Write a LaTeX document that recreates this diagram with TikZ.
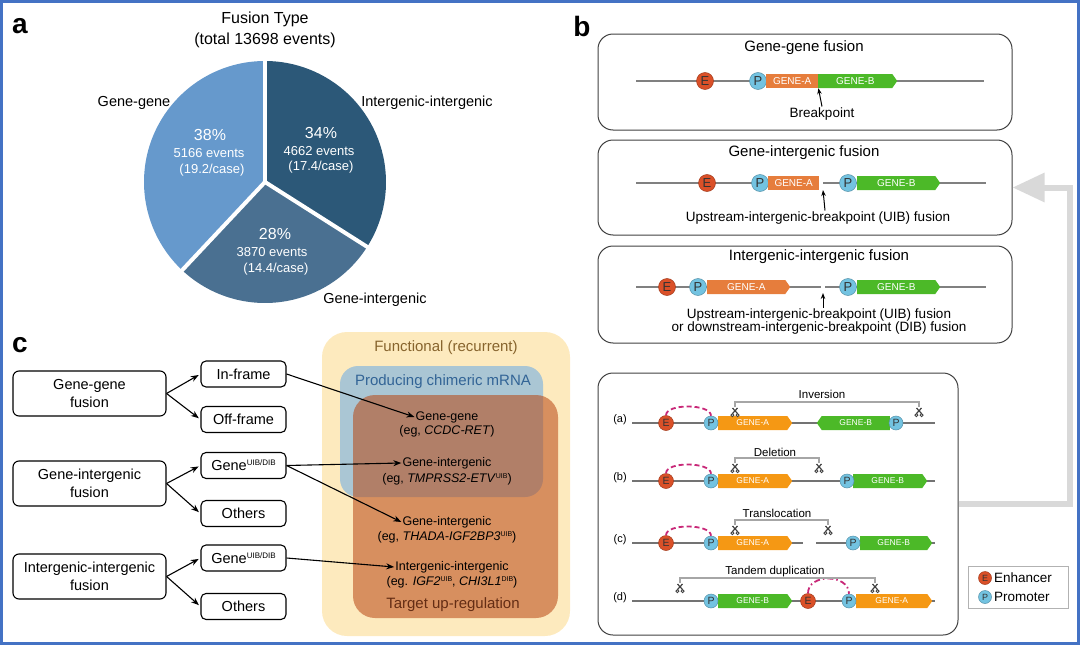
\documentclass[tikz,border=0pt]{standalone}
\usepackage{fontspec}
\setmainfont{Liberation Sans}
\usetikzlibrary{positioning,shapes,arrows.meta}
\definecolor{frameblue}{RGB}{68,114,196}
\definecolor{pieA}{RGB}{102,153,204}
\definecolor{pieB}{RGB}{74,112,145}
\definecolor{pieC}{RGB}{44,88,120}
\definecolor{enhc}{RGB}{218,80,40}
\definecolor{promc}{RGB}{115,195,225}
\definecolor{geneAc}{RGB}{230,125,60}
\definecolor{geneAb}{RGB}{245,152,20}
\definecolor{geneBc}{RGB}{76,185,40}
\definecolor{loopc}{RGB}{200,40,120}
\definecolor{funcy}{RGB}{253,234,190}
\definecolor{chimb}{RGB}{170,198,212}
\definecolor{upreg}{RGB}{184,69,17}
\definecolor{functxt}{RGB}{135,100,45}
\definecolor{chimtxt}{RGB}{50,100,150}
\definecolor{uptxt}{RGB}{100,45,20}

\begin{document}
\begin{tikzpicture}
    [x=1pt, y=-1pt, every node/.style={inner sep=1pt},
     fs/.style={font=\fontsize{#1}{#1}\selectfont},
     panel/.style={font=\fontsize{28}{28}\selectfont\bfseries},
     wtxt/.style={text=white},
     bbox/.style={draw=black!75, line width=1pt, rounded corners=15pt, minimum width=414pt},
     thinline/.style={draw=black!50, line width=1.3pt},
     baseline/.style={draw=black!55, line width=2pt},
     enh/.style={circle, draw=enhc!75!black, line width=0.5pt, fill=enhc, inner sep=0pt, minimum size=17pt, fs=13, text=black!80},
     prom/.style={enh, draw=promc!75!black, fill=promc},
     smallc/.style={minimum size=14pt, fs=10.5},
     gene/.style={rectangle, inner sep=0pt, minimum height=14pt, text=white, fs=10},
     gsig/.style={gene, signal, signal to=east, signal pointer angle=110},
     gsigw/.style={gene, signal, signal to=west, signal pointer angle=110},
     bparr/.style={-{Stealth[length=6pt,width=4.5pt]}, line width=1pt},
     brk/.style={draw=black!35, line width=1.8pt},
     loopd/.style={draw=loopc, line width=1.8pt, dash pattern=on 5pt off 3pt},
     scis/.pic={
       \draw[black!75, line width=1.2pt] (-2.5,-4) -- (2.5,1.5) (2.5,-4) -- (-2.5,1.5);
       \draw[black!75, line width=0.9pt] (-2.6,3.2) circle (1.5) (2.6,3.2) circle (1.5);},
     fb/.style={draw=black!15, line width=6pt, -{Triangle[length=32pt,width=28pt]}},
     bigbox/.style={draw, line width=1.1pt, rounded corners=6pt, minimum width=153pt, minimum height=45pt, align=center, font=\fontsize{14.5}{18}\selectfont},
     smallbox/.style={draw, line width=1.1pt, rounded corners=5pt, minimum width=85pt, minimum height=26pt, fs=14.5},
     arr/.style={-{Stealth[length=8pt,width=6pt]}, line width=1.1pt}]
  \useasboundingbox (0,0) rectangle (1080,645);
  \draw[frameblue, line width=3pt] (1.5,1.5) rectangle (1078.5,643.5);

  % panel a
  \node[panel] (la) at (20,26) {a};
  \node[fs=16] (ttl1) at (265,19) {Fusion Type};
  \node[fs=16] (ttl2) at (265,40) {(total 13698 events)};
  \begin{scope}[shift={(265,182)}, y=1pt]
    \fill[pieA] (0,0) -- (90:121) arc[start angle=90, end angle=226.8, radius=121] -- cycle;
    \fill[pieB] (0,0) -- (226.8:121) arc[start angle=226.8, end angle=327.6, radius=121] -- cycle;
    \fill[pieC] (0,0) -- (327.6:121) arc[start angle=327.6, end angle=450, radius=121] -- cycle;
    \foreach \a in {90, 226.8, 327.6}
      \draw[white, line width=4pt] (0,0) -- (\a:124);
  \end{scope}
  \node[fs=14.5] (pgg) at (134,103) {Gene-gene};
  \node[fs=14.5] (pii) at (427,103) {Intergenic-intergenic};
  \node[fs=14.5] (pgi) at (375,300) {Gene-intergenic};
  \node[fs=16, wtxt] (s1a) at (210,135) {38\%};
  \node[fs=13, wtxt] (s1b) at (209,153) {5166 events};
  \node[fs=13, wtxt] (s1c) at (212,170) {(19.2/case)};
  \node[fs=16, wtxt] (s2a) at (321,133) {34\%};
  \node[fs=13, wtxt] (s2b) at (319,151) {4662 events};
  \node[fs=13, wtxt] (s2c) at (321,167) {(17.4/case)};
  \node[fs=16, wtxt] (s3a) at (275,234) {28\%};
  \node[fs=13, wtxt] (s3b) at (272,252) {3870 events};
  \node[fs=13, wtxt] (s3c) at (276,269) {(14.4/case)};

  % panel b
  \node[panel] (lb) at (582,26) {b};
  \node[bbox, minimum height=96pt] (bx1) at (805,82) {};
  \node[bbox, minimum height=95pt] (bx2) at (805,187.5) {};
  \node[bbox, minimum height=97pt] (bx3) at (805,294.5) {};
  \node[bbox, minimum width=360pt, minimum height=262pt] (bx4) at (778,504) {};
  \node[fs=15] (h1) at (804,48) {Gene-gene fusion};
  \node[fs=15] (h2) at (804,153) {Gene-intergenic fusion};
  \node[fs=15] (h3) at (819,257) {Intergenic-intergenic fusion};

  \coordinate (l10) at (636,81); \coordinate (l11) at (984,81);
  \draw[thinline] (l10) -- (l11);
  \node[enh] (e1) at (705,81) {E};
  \node[prom] (p1) at (758,81) {P};
  \node[gene, fill=geneAc, minimum width=52pt, anchor=west] (ga1) at (766,81) {GENE-A};
  \node[gsig, fill=geneBc, minimum width=79pt, anchor=west] (gb1) at (818,81) {GENE-B};
  \node[fs=13.5] (bp1) at (822,114) {Breakpoint};
  \draw[bparr] (bp1.north) -- (ga1.south east);

  \coordinate (l20) at (636,183); \coordinate (l21) at (819,183);
  \coordinate (l22) at (823,183); \coordinate (l23) at (986,183);
  \draw[thinline] (l20) -- (l21) (l22) -- (l23);
  \node[enh] (e2) at (707,183) {E};
  \node[prom] (p2) at (760,183) {P};
  \node[gene, fill=geneAc, minimum width=51pt, anchor=west] (ga2) at (768,183) {GENE-A};
  \node[prom] (p2b) at (848,183) {P};
  \node[gsig, fill=geneBc, minimum width=83pt, anchor=west] (gb2) at (857,183) {GENE-B};
  \node[fs=13.5] (bp2) at (818,218) {Upstream-intergenic-breakpoint (UIB) fusion};
  \coordinate (cut2) at (823,190);
  \draw[bparr] ([xshift=7pt]bp2.north) -- (cut2);

  \coordinate (l30) at (636,287); \coordinate (l31) at (821,287);
  \coordinate (l32) at (825,287); \coordinate (l33) at (986,287);
  \draw[thinline] (l30) -- (l31) (l32) -- (l33);
  \node[enh] (e3) at (667,287) {E};
  \node[prom] (p3) at (698,287) {P};
  \node[gsig, fill=geneAc, minimum width=83pt, anchor=west] (ga3) at (707,287) {GENE-A};
  \node[prom] (p3b) at (848,287) {P};
  \node[gsig, fill=geneBc, minimum width=83pt, anchor=west] (gb3) at (857,287) {GENE-B};
  \node[align=center, font=\fontsize{13.5}{13}\selectfont] (bp3) at (819,321.5)
    {Upstream-intergenic-breakpoint (UIB) fusion\\or downstream-intergenic-breakpoint (DIB) fusion};
  \coordinate (cut3) at (823,293);
  \draw[bparr] ([xshift=4pt]bp3.north) -- (cut3);

  % structural variants
  \foreach \y/\n in {423/a, 481/b, 601/d} {
    \coordinate (r\n0) at (632,\y); \coordinate (r\n1) at (935,\y);
    \draw[baseline] (r\n0) -- (r\n1);
    \node[fs=11] (rl\n) at (620,\y-3) {(\n)};
  }
  \coordinate (rc0) at (632,543); \coordinate (rc1) at (803,543);
  \coordinate (rc2) at (816,543); \coordinate (rc3) at (935,543);
  \draw[baseline] (rc0) -- (rc1) (rc2) -- (rc3);
  \node[fs=11] (rlc) at (620,540) {(c)};

  \node[enh, smallc, minimum size=15pt] (ea) at (666,423) {E};
  \node[gsig, fill=geneAb, fs=8.5, minimum width=74pt, anchor=west] (gaa) at (718,423) {GENE-A};
  \node[prom, smallc] (pa) at (711,423) {P};
  \node[gsigw, fill=geneBc, fs=8.5, minimum width=73pt, anchor=east] (gba) at (890,423) {GENE-B};
  \node[prom, smallc] (pa2) at (896,423) {P};

  \node[enh, smallc, minimum size=15pt] (eb) at (666,481) {E};
  \node[gsig, fill=geneAb, fs=8.5, minimum width=74pt, anchor=west] (gab) at (718,481) {GENE-A};
  \node[prom, smallc] (pb) at (711,481) {P};
  \node[gsig, fill=geneBc, fs=8.5, minimum width=74pt, anchor=west] (gbb) at (853,481) {GENE-B};
  \node[prom, smallc] (pb2) at (847,481) {P};

  \node[enh, smallc, minimum size=15pt] (ec) at (666,543) {E};
  \node[gsig, fill=geneAb, fs=8.5, minimum width=74pt, anchor=west] (gac) at (718,543) {GENE-A};
  \node[prom, smallc] (pc) at (711,543) {P};
  \node[gsig, fill=geneBc, fs=8.5, minimum width=72pt, anchor=west] (gbc) at (860,543) {GENE-B};
  \node[prom, smallc] (pc2) at (853,543) {P};

  \node[gsig, fill=geneBc, fs=8.5, minimum width=74pt, anchor=west] (gbd) at (718,601) {GENE-B};
  \node[prom, smallc] (pd) at (711,601) {P};
  \node[enh, smallc, minimum size=15pt] (ed) at (808,601) {E};
  \node[gsig, fill=geneAb, fs=8.5, minimum width=76pt, anchor=west] (gad) at (856,601) {GENE-A};
  \node[prom, smallc] (pd2) at (849,601) {P};

  \foreach \e/\p in {ea/pa, eb/pb, ec/pc}
    \draw[loopd] (\e.north) .. controls +(0,-12) and +(0,-12) .. (\p.north);
  \draw[loopd, dash pattern=on 6pt off 3pt on 1.5pt off 3pt] (ed.north) .. controls +(0,-20) and +(0,-20) .. (pd2.north);

  \foreach \s/\x/\y in {sa1/735/412, sa2/919/412, sb1/735/468, sb2/819/468,
                        sc1/735/530, sc2/828/530, sd1/680/588, sd2/875/588} {
    \coordinate (\s) at (\x,\y);
    \pic at (\s) {scis};
  }
  \foreach \l in {a, b, c, d}
    \draw[brk] ([yshift=5pt]s\l1) |- ([yshift=10pt]s\l2) -- ([yshift=5pt]s\l2);
  \node[fs=11.5] (tva) at (822,394) {Inversion};
  \node[fs=11.5] (tvb) at (775,452) {Deletion};
  \node[fs=11.5] (tvc) at (777,513) {Translocation};
  \node[fs=11.5] (tvd) at (775,572) {Tandem duplication};

  \draw[fb] (bx4.east) -- ++(111,0) |- (bx2.east);

  \node[draw=black!30, line width=1pt, minimum width=100pt, minimum height=42pt] (leg) at (1018,587) {};
  \node[enh, minimum size=13pt, fs=9] (le) at (985,578) {E};
  \node[prom, minimum size=13pt, fs=9] (lp) at (985,597) {P};
  \node[fs=13.5, anchor=west] (lte) at (993,578) {Enhancer};
  \node[fs=13.5, anchor=west] (ltp) at (993,597) {Promoter};

  % panel c
  \node[panel] (lc) at (20,345) {c};
  \node[fill=funcy, rounded corners=25pt, minimum width=248pt, minimum height=304pt] (fz) at (446,484) {};
  \node[fill=chimb, rounded corners=18pt, minimum width=203pt, minimum height=131pt] (cz) at (441.5,431.5) {};
  \node[fill=upreg, fill opacity=0.55, rounded corners=22pt, minimum width=205pt, minimum height=223pt] (uz) at (455.5,506.5) {};
  \node[fs=15, text=functxt] (fzt) at (446,348) {Functional (recurrent)};
  \node[fs=15, text=chimtxt] (czt) at (443,382) {Producing chimeric mRNA};
  \node[fs=15, text=uptxt] (uzt) at (453,605) {Target up-regulation};

  \node[bigbox] (gg) at (89.5,393.5) {Gene-gene\\fusion};
  \node[bigbox] (gi) at (89.5,483.5) {Gene-intergenic\\fusion};
  \node[bigbox] (ii) at (89.5,576.5) {Intergenic-intergenic\\fusion};
  \node[smallbox] (inf) at (243.5,374) {In-frame};
  \node[smallbox] (off) at (243.5,419.5) {Off-frame};
  \node[smallbox] (gu1) at (243.5,465.5) {Gene\raisebox{5pt}{\fontsize{8}{8}\selectfont UIB/DIB}};
  \node[smallbox] (oth1) at (243.5,513.5) {Others};
  \node[smallbox] (gu2) at (243.5,558) {Gene\raisebox{5pt}{\fontsize{8}{8}\selectfont UIB/DIB}};
  \node[smallbox] (oth2) at (243.5,606.5) {Others};

  \node[fs=12.5] (t1) at (447,417) {Gene-gene};
  \node[fs=12.5] (t1b) at (447,431) {(eg, \textit{CCDC-RET})};
  \node[fs=12.5] (t2) at (447,463) {Gene-intergenic};
  \node[fs=12.5] (t2b) at (447,479) {(eg, \textit{TMPRSS2-ETV}\raisebox{4pt}{\fontsize{7}{7}\selectfont UIB})};
  \node[fs=12.5] (t3) at (447,522) {Gene-intergenic};
  \node[fs=12.5] (t3b) at (447,537) {(eg, \textit{THADA-IGF2BP3}\raisebox{4pt}{\fontsize{7}{7}\selectfont UIB})};
  \node[fs=12.5] (t4) at (452,567) {Intergenic-intergenic};
  \node[fs=12.5] (t4b) at (452,582) {(eg. \textit{IGF2}\raisebox{4pt}{\fontsize{7}{7}\selectfont UIB}, \textit{CHI3L1}\raisebox{4pt}{\fontsize{7}{7}\selectfont DIB})};

  \foreach \from/\to in {gg/inf, gg/off, gi/gu1, gi/oth1, ii/gu2, ii/oth2}
    \draw[arr, shorten >=2pt] (\from.east) -- (\to.west);
  \foreach \from/\to in {inf/t1, gu1/t2, gu1/t3, gu2/t4}
    \draw[arr] (\from.east) -- (\to.west);
\end{tikzpicture}
\end{document}
